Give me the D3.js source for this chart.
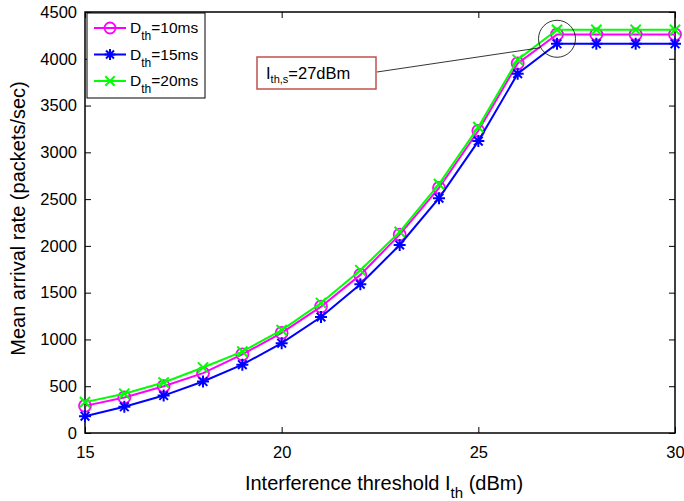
<!DOCTYPE html>
<html>
<head>
<meta charset="utf-8">
<script src="https://cdn.jsdelivr.net/npm/d3@7"></script>
<style>
  body { margin: 0; background: #fff; }
  svg { display: block; font-family: "Liberation Sans", Arial, sans-serif; }
</style>
</head>
<body>
<svg id="chart" width="684" height="501"></svg>
<script>
// Interference threshold (dBm)
const thresholds = [15, 16, 17, 18, 19, 20, 21, 22, 23, 24, 25, 26, 27, 28, 29, 30];
// Mean arrival rate (packets/sec) per delay bound
const rate10ms = [290, 380, 500, 640, 840, 1070, 1350, 1690, 2120, 2620, 3230, 3950, 4260, 4260, 4260, 4260];
const rate15ms = [180, 280, 400, 550, 730, 960, 1240, 1590, 2010, 2510, 3120, 3840, 4160, 4160, 4160, 4160];
const rate20ms = [330, 420, 540, 700, 870, 1100, 1390, 1740, 2150, 2660, 3270, 3990, 4310, 4310, 4310, 4310];
const xTicks = [15, 20, 25, 30];
const yTicks = [0, 500, 1000, 1500, 2000, 2500, 3000, 3500, 4000, 4500];
const saturationPoint = 27;

const series = [
  { key: "10", values: rate10ms, color: "#ff00ff", marker: "circle" },
  { key: "15", values: rate15ms, color: "#0000ff", marker: "star" },
  { key: "20", values: rate20ms, color: "#00ff00", marker: "cross" }
];

const svg = d3.select("#chart");
const m = { left: 85, right: 9, top: 12, bottom: 68 };
const W = 684, H = 501;
const x = d3.scaleLinear().domain([15, 30]).range([m.left, W - m.right]);
const y = d3.scaleLinear().domain([0, 4500]).range([H - m.bottom, m.top]);

// plot frame with inward ticks on all four sides
const g = svg.append("g");
const tickLen = 6;
const fmt = d3.format("d");
g.append("g").attr("transform", `translate(0,${y(0)})`)
  .call(d3.axisBottom(x).tickValues(xTicks).tickFormat(fmt).tickSizeInner(-tickLen).tickSizeOuter(0).tickPadding(13))
  .call(a => a.select(".domain").remove());
g.append("g").attr("transform", `translate(0,${y(4500)})`)
  .call(d3.axisTop(x).tickValues(xTicks).tickSizeInner(-tickLen).tickSizeOuter(0).tickFormat(""))
  .call(a => a.select(".domain").remove());
g.append("g").attr("transform", `translate(${x(15)},0)`)
  .call(d3.axisLeft(y).tickValues(yTicks).tickFormat(fmt).tickSizeInner(-tickLen).tickSizeOuter(0).tickPadding(8))
  .call(a => a.select(".domain").remove());
g.append("g").attr("transform", `translate(${x(30)},0)`)
  .call(d3.axisRight(y).tickValues(yTicks).tickSizeInner(-tickLen).tickSizeOuter(0).tickFormat(""))
  .call(a => a.select(".domain").remove());
g.selectAll("g").attr("font-size", null).attr("font-family", null);
g.selectAll(".tick text").attr("font-size", 16.5).attr("fill", "#000");
g.selectAll(".tick line").attr("stroke", "#000");

g.append("rect")
  .attr("x", x(15)).attr("y", y(4500))
  .attr("width", x(30) - x(15)).attr("height", y(0) - y(4500))
  .attr("fill", "none").attr("stroke", "#000").attr("stroke-width", 1.5);

function drawMarker(sel, type, color, size) {
  if (type === "circle") {
    sel.append("circle").attr("r", size).attr("fill", "none")
      .attr("stroke", color).attr("stroke-width", 1.8);
  } else if (type === "star") {
    const s = size;
    const d = s * 0.72;
    sel.append("path")
      .attr("d", `M${-s},0L${s},0M0,${-s}L0,${s}M${-d},${-d}L${d},${d}M${-d},${d}L${d},${-d}`)
      .attr("stroke", color).attr("stroke-width", 2).attr("fill", "none");
  } else {
    const d = size * 0.85;
    sel.append("path")
      .attr("d", `M${-d},${-d}L${d},${d}M${-d},${d}L${d},${-d}`)
      .attr("stroke", color).attr("stroke-width", 2).attr("fill", "none");
  }
}

const line = d3.line().x((d, i) => x(thresholds[i])).y(d => y(d));
const plot = svg.append("g");
series.forEach(s => {
  plot.append("path").datum(s.values)
    .attr("d", line).attr("fill", "none")
    .attr("stroke", s.color).attr("stroke-width", 2);
  s.values.forEach((v, i) => {
    const mk = plot.append("g").attr("transform", `translate(${x(thresholds[i])},${y(v)})`);
    drawMarker(mk, s.marker, s.color, 6);
  });
});

// legend
const lg = svg.append("g");
lg.append("rect").attr("x", 87).attr("y", 13).attr("width", 118).attr("height", 85)
  .attr("fill", "#fff").attr("stroke", "#000").attr("stroke-width", 1);
series.forEach((s, i) => {
  const ly = 28 + i * 26.5;
  lg.append("line").attr("x1", 94).attr("x2", 126).attr("y1", ly).attr("y2", ly)
    .attr("stroke", s.color).attr("stroke-width", 2);
  drawMarker(lg.append("g").attr("transform", `translate(110,${ly})`), s.marker, s.color, 5.5);
  const t = lg.append("text").attr("x", 130).attr("y", ly + 5).attr("font-size", 15.5);
  t.append("tspan").text("D");
  t.append("tspan").attr("font-size", 12).attr("dy", 7).text("th");
  t.append("tspan").attr("dy", -7).text(`=${s.key}ms`);
});

// saturation annotation
const satY = y(rate20ms[thresholds.indexOf(saturationPoint)]) + 9;
svg.append("ellipse").attr("cx", x(saturationPoint)).attr("cy", satY)
  .attr("rx", 18.5).attr("ry", 18.5)
  .attr("fill", "none").attr("stroke", "#000").attr("stroke-width", 0.8);
svg.append("line").attr("x1", 377).attr("y1", 72).attr("x2", x(saturationPoint) - 17).attr("y2", satY + 9)
  .attr("stroke", "#000").attr("stroke-width", 0.8);
svg.append("rect").attr("x", 257).attr("y", 57).attr("width", 119).attr("height", 32)
  .attr("fill", "#fff").attr("stroke", "#c0504d").attr("stroke-width", 1.5);
const at = svg.append("text").attr("x", 266).attr("y", 79).attr("font-size", 16.5);
at.append("tspan").text("I");
at.append("tspan").attr("font-size", 11).attr("dy", 4).text("th,s");
at.append("tspan").attr("dy", -4).text(`=${saturationPoint}dBm`);

// axis titles
const xt = svg.append("text").attr("x", (x(15) + x(30)) / 2 + 4).attr("y", 490)
  .attr("text-anchor", "middle").attr("font-size", 20);
xt.append("tspan").text("Interference threshold I");
xt.append("tspan").attr("font-size", 15).attr("dy", 8).text("th");
xt.append("tspan").attr("dy", -8).text(" (dBm)");

svg.append("text")
  .attr("transform", `translate(25,${(y(0) + y(4500)) / 2 - 4}) rotate(-90)`)
  .attr("text-anchor", "middle").attr("font-size", 20)
  .text("Mean arrival rate (packets/sec)");
</script>
</body>
</html>
